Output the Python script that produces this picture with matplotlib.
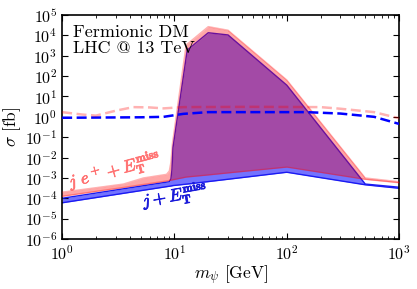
import matplotlib
matplotlib.use('Agg')
import matplotlib.pyplot as plt
import matplotlib.patheffects as pe
import numpy as np

plt.rcParams['font.family'] = 'cmr10'
plt.rcParams['mathtext.fontset'] = 'cm'
plt.rcParams['axes.formatter.use_mathtext'] = True

# j + E_T^miss band
m_blue = [1, 9, 9.3, 9.5, 9.7, 13, 20, 30, 100, 500, 1000]
blue_lo = [6e-5, 3.9e-4, 4.0e-4, 4.1e-4, 4.2e-4, 5.0e-4, 6.6e-4, 8.6e-4, 1.9e-3, 4.6e-4, 3.1e-4]
blue_up = [1.0e-4, 6.5e-4, 9e-4, 2.5e-3, 3e-2, 1.9e3, 1.35e4, 1.05e4, 36, 5.0e-4, 3.5e-4]

# j e+ + E_T^miss band
m_pink = [1, 3.5, 5.3, 8.5, 9.0, 9.3, 9.6, 12.7, 20, 30, 100, 500, 1000]
pink_lo = [1.25e-4, 3.4e-4, 4.8e-4, 7.1e-4, 7.5e-4, 7.7e-4, 8e-4, 1.1e-3, 1.4e-3, 1.76e-3, 3.4e-3, 8.5e-4, 5.8e-4]
pink_up = [2.0e-4, 5e-4, 1.0e-3, 1.5e-3, 2.2e-3, 6e-3, 5e-2, 3.4e3, 2.7e4, 1.8e4, 65, 1.0e-3, 6.5e-4]

# dashed curves
m_dash_pink = [1, 1.5, 2, 3, 4.3, 6, 8, 12, 50, 200, 300, 600, 1000]
dash_pink = [1.7, 1.3, 1.15, 2.0, 3.0, 2.9, 2.6, 3.0, 3.1, 3.0, 2.5, 1.7, 0.85]
m_dash_blue = [1, 5, 8, 12, 20, 150, 300, 600, 1000]
dash_blue = [0.9, 0.95, 1.0, 1.4, 1.7, 1.7, 1.45, 1.0, 0.45]

fig = plt.figure(figsize=(4.17, 2.89), dpi=100)
ax = fig.add_axes([0.149, 0.173, 0.808, 0.775])

ax.fill_between(m_blue, blue_lo, blue_up, color='blue', alpha=0.55, lw=0, zorder=1)
ax.plot(m_blue, blue_lo, color=(0.1, 0.1, 0.95), lw=1, zorder=2)
ax.plot(m_blue, blue_up, color=(0.1, 0.1, 0.95), lw=1, zorder=2)
ax.fill_between(m_pink, pink_lo, pink_up, color='red', alpha=0.35, lw=0, zorder=3)
ax.plot(m_pink, pink_lo, color='red', alpha=0.3, lw=1, zorder=3)
ax.plot(m_pink, pink_up, color='red', alpha=0.3, lw=1, zorder=3)

ax.plot(m_dash_blue, dash_blue, color='blue', lw=1.8, dashes=(4, 1.8), zorder=4)
ax.plot(m_dash_pink, dash_pink, color='red', alpha=0.3, lw=1.8, dashes=(4, 1.8), zorder=4)

ax.set_xscale('log')
ax.set_yscale('log')
ax.set_xlim(1, 1000)
ax.set_ylim(1e-6, 1e5)
ax.set_yticks([10.0**k for k in range(-6, 6)])
ax.tick_params(which='both', direction='in', top=True, right=True, labelsize=11.5)
ax.tick_params(which='major', length=4)
ax.tick_params(which='minor', length=2)
for s in ax.spines.values():
    s.set_linewidth(1.2)

ax.set_xlabel(r'$m_\psi$ [GeV]', fontsize=12.5, labelpad=1)
ax.set_ylabel(r'$\sigma$ [fb]', fontsize=12.5, labelpad=1)

ax.text(0.033, 0.955, 'Fermionic DM\nLHC @ 13 TeV', transform=ax.transAxes,
        fontsize=13, va='top', ha='left', linespacing=1.05)

pink_txt = ax.text(1.18, 3.4e-4, r'$j\ e^+ + E_\mathbf{T}^\mathbf{miss}$', color=(1, 0.45, 0.45),
                   fontsize=12.5, rotation=15, rotation_mode='anchor')
pink_txt.set_path_effects([pe.withStroke(linewidth=0.5, foreground=(1, 0.45, 0.45))])
blue_txt = ax.text(5.3, 4.0e-5, r'$j + E_\mathbf{T}^\mathbf{miss}$', color=(0.1, 0.1, 0.85),
                   fontsize=12.5, rotation=10, rotation_mode='anchor')
blue_txt.set_path_effects([pe.withStroke(linewidth=0.5, foreground=(0.1, 0.1, 0.85))])

fig.savefig('out.png', dpi=100)
